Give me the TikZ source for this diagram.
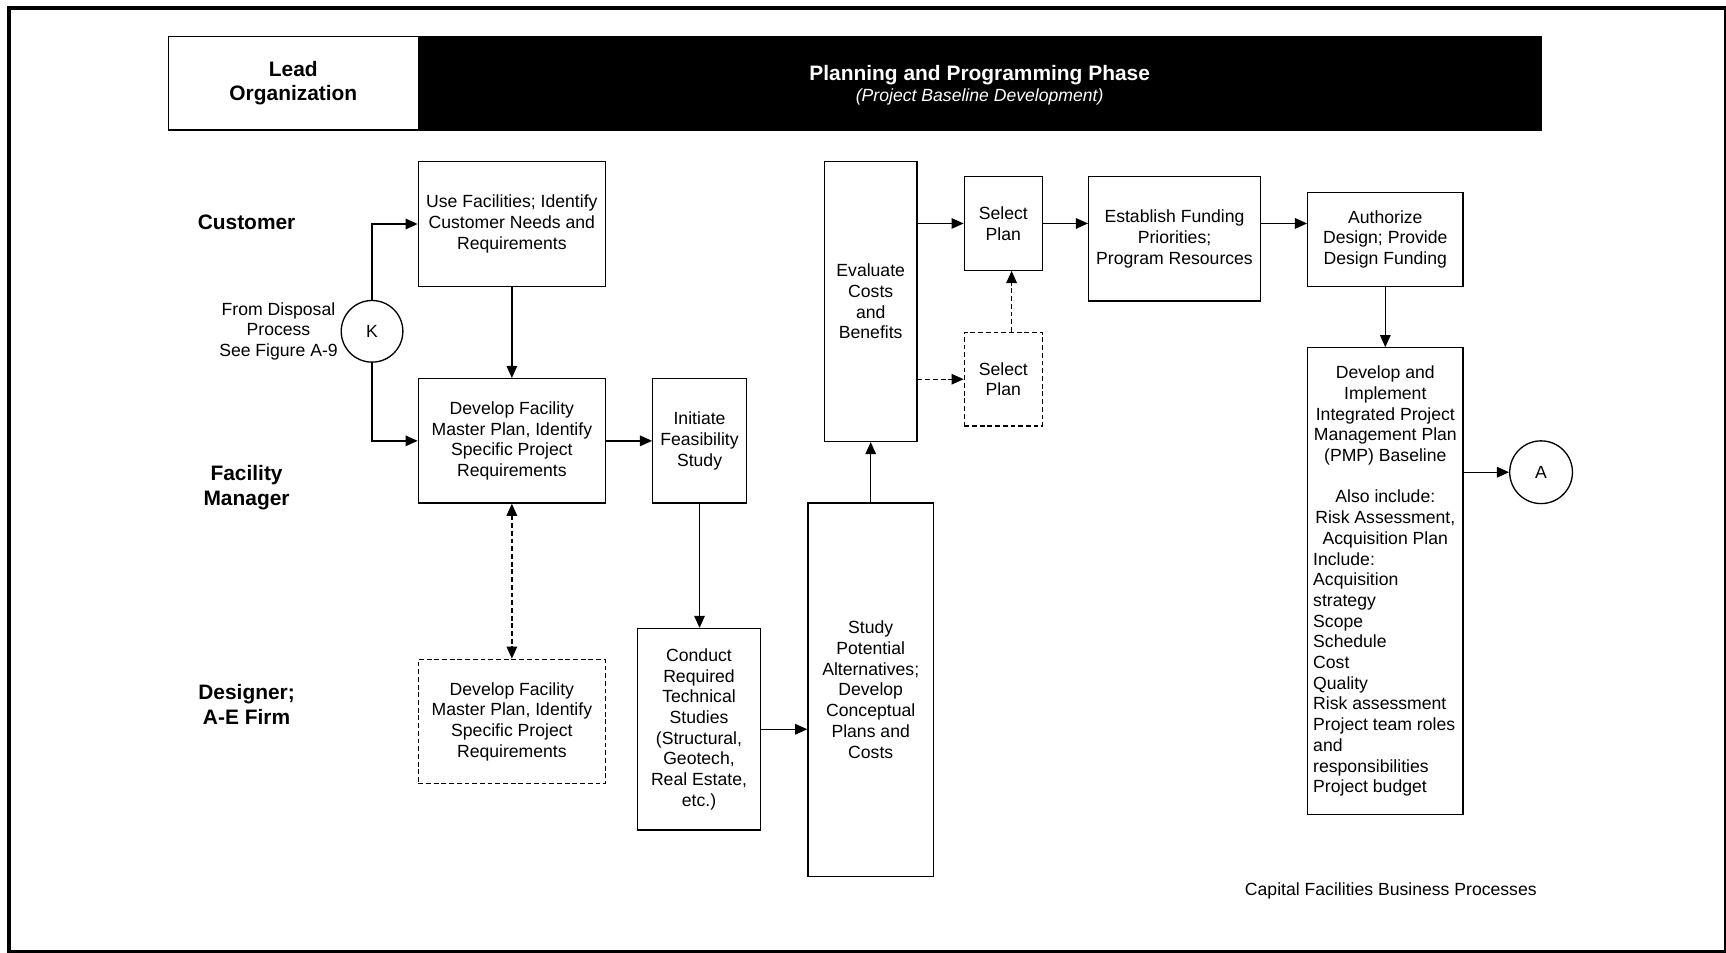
\documentclass[tikz,border=0pt]{standalone}
\usepackage{fontspec}
\setmainfont{Liberation Sans}
\usetikzlibrary{arrows.meta}
\begin{document}
\begin{tikzpicture}[x=0.5pt,y=-0.5pt,
  lw/.style={line width=0.6pt},
  dsh/.style={dash pattern=on 2.2pt off 1.3pt},
  box/.style={draw, lw, rectangle, align=center, inner sep=1pt, font=\fontsize{8}{9.4}\selectfont},
  dbox/.style={box, dsh},
  lane/.style={align=center, inner sep=0pt, font=\bfseries\fontsize{9.5}{11}\selectfont},
  plain/.style={align=center, inner sep=0pt, font=\fontsize{8}{9.4}\selectfont},
  tip/.tip={Triangle[length=5.5pt,width=4.8pt]},
  arr/.style={lw, -tip},
  darr/.style={lw, dsh, -tip},
  ddarr/.style={lw, dsh, tip-tip},
  circ/.style={draw, lw, circle, inner sep=0pt, font=\fontsize{8}{9.4}\selectfont},
]
\useasboundingbox (0,0) rectangle (1568,865);
\clip (0,0) rectangle (1568,865);
% outer frame
\draw[line width=1.7pt] (8.3,7) rectangle (1568,865);

% header
\node[draw, lw, minimum width=113.5pt, minimum height=42.5pt, inner sep=0pt, align=center,
      font=\bfseries\fontsize{9.5}{11}\selectfont] (lead) at (266.5,75.5) {Lead\\Organization};
\node[draw, lw, fill=black, minimum width=510pt, minimum height=42.5pt, inner sep=0pt] (phase) at (890,75.5) {};
\node[anchor=base, inner sep=0pt, text=white, font=\bfseries\fontsize{9.5}{11}\selectfont] (ptitle) at (890,73) {Planning and Programming Phase};
\node[anchor=base, inner sep=0pt, text=white, font=\itshape\fontsize{8}{9.4}\selectfont] (psub) at (890,92) {(Project Baseline Development)};

% lane labels
\node[lane] (lcust) at (224,202) {Customer};
\node[lane] (lfm) at (224,443) {Facility\\Manager};
\node[lane] (lde) at (224,640) {Designer;\\A-E Firm};

% connector K
\node[circ, minimum size=28pt] (K) at (338,301) {K};
\node[plain] (from) at (253,301) {From Disposal\\Process\\See Figure A-9};

% boxes
\node[box, minimum width=85pt, minimum height=56.5pt] (cust) at (465,203.5) {Use Facilities; Identify\\Customer Needs and\\Requirements};
\node[box, minimum width=85pt, minimum height=56.5pt] (devfm) at (465,400.5) {Develop Facility\\Master Plan, Identify\\Specific Project\\Requirements};
\node[box, minimum width=42.5pt, minimum height=56.5pt] (init) at (635.5,400.5) {Initiate\\Feasibility\\Study};
\node[dbox, minimum width=85pt, minimum height=56.5pt] (devd) at (465,655.5) {Develop Facility\\Master Plan, Identify\\Specific Project\\Requirements};
\node[box, minimum width=56pt, minimum height=91.5pt] (cond) at (635,662.5) {Conduct\\Required\\Technical\\Studies\\(Structural,\\Geotech,\\Real Estate,\\etc.)};
\node[box, minimum width=57pt, minimum height=169.5pt] (study) at (791,626.5) {Study\\Potential\\Alternatives;\\Develop\\Conceptual\\Plans and\\Costs};
\node[box, minimum width=42pt, minimum height=127pt] (eval) at (791,274) {Evaluate\\Costs\\and\\Benefits};
\node[box, minimum width=35.5pt, minimum height=42.5pt] (sel) at (911.5,203) {Select\\Plan};
\node[dbox, minimum width=35.5pt, minimum height=42.5pt] (seld) at (911.5,344.5) {Select\\Plan};
\node[box, minimum width=78pt, minimum height=56.5pt] (fund) at (1067,217) {Establish Funding\\Priorities;\\Program Resources};
\node[box, minimum width=70.5pt, minimum height=42.5pt] (auth) at (1258.5,217.5) {Authorize\\Design; Provide\\Design Funding};
\node[draw, lw, rectangle, minimum width=70.5pt, minimum height=212pt, inner sep=0pt, font=\fontsize{8}{9.4}\selectfont]
  (pmp) at (1258.5,528) {\begin{minipage}{65.5pt}\centering Develop and\\Implement\\Integrated Project\\Management Plan\\(PMP) Baseline\\[9.4pt]Also include:\\Risk Assessment,\\Acquisition Plan\par\raggedright Include:\\Acquisition\\strategy\\Scope\\Schedule\\Cost\\Quality\\Risk assessment\\Project team roles\\and\\responsibilities\\Project budget\par\end{minipage}};
\node[circ, minimum size=28.5pt] (A) at (1400,429) {A};

\node[plain] (cap) at (1263.5,809) {Capital Facilities Business Processes};

% connectors
\draw[arr] (K.north) |- (cust.west);
\draw[arr] (K.south) |- (devfm.west);
\draw[arr] (cust.south) -- (devfm.north);
\draw[arr] (devfm.east) -- (init.west);
\draw[ddarr] (devfm.south) -- (devd.north);
\draw[arr] (init.south) -- (init.south |- cond.north);
\draw[arr] (cond.east) -- (cond.east -| study.west);
\draw[arr] (study.north) -- (eval.south);
\draw[arr] (eval.east |- sel.west) -- (sel.west);
\draw[darr] (eval.east |- seld.west) -- (seld.west);
\draw[darr] ([xshift=3.75pt]seld.north) -- ([xshift=3.75pt]sel.south);
\draw[arr] (sel.east) -- (sel.east -| fund.west);
\draw[arr] (fund.east |- sel.east) -- (auth.west |- sel.east);
\draw[arr] (auth.south) -- (pmp.north);
\draw[arr] (pmp.east |- A.west) -- (A.west);
\end{tikzpicture}
\end{document}
